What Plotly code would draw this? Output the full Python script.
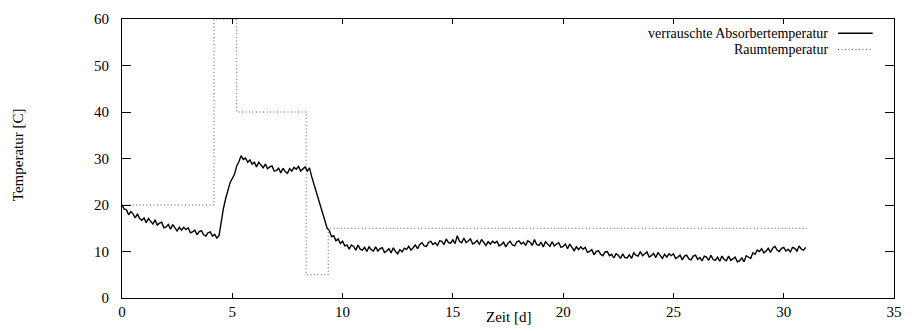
import plotly.graph_objects as go

# Noisy absorber temperature, sampled every 0.1 days from day 0 to day 31
absorber = [
    20.0, 19.1, 19.0, 17.9, 18.6, 18.1, 17.2, 18.1, 17.1, 16.7,
    17.2, 16.2, 17.1, 16.4, 15.9, 16.8, 15.7, 16.1, 16.3, 15.1,
    15.3, 15.8, 14.8, 15.8, 15.0, 14.4, 15.2, 14.6, 15.2, 14.7,
    15.1, 14.0, 14.2, 14.6, 13.6, 14.3, 14.5, 13.6, 13.3, 14.0,
    14.2, 13.3, 13.7, 12.9, 13.4, 16.9, 19.3, 21.4, 23.4, 24.8,
    25.7, 26.6, 28.4, 29.3, 30.6, 29.8, 30.1, 29.2, 29.7, 28.8,
    29.2, 28.2, 29.2, 28.5, 28.0, 28.8, 27.8, 28.2, 28.4, 27.3,
    27.4, 27.9, 26.9, 27.9, 27.2, 26.8, 27.8, 27.3, 28.1, 27.7,
    28.3, 27.3, 27.7, 28.2, 27.3, 28.0, 26.1, 24.5, 23.1, 21.2,
    19.9, 17.8, 16.5, 15.0, 14.5, 13.2, 13.4, 12.3, 12.7, 11.7,
    12.2, 11.2, 11.4, 10.5, 11.4, 11.1, 10.3, 11.4, 10.5, 10.3,
    10.9, 10.0, 11.0, 10.4, 10.1, 11.0, 10.1, 10.6, 10.8, 9.8,
    10.1, 10.6, 9.7, 10.8, 10.0, 9.5, 10.4, 9.9, 10.7, 10.4,
    11.1, 10.3, 10.8, 11.4, 10.6, 11.5, 11.9, 11.2, 11.1, 12.0,
    12.2, 11.5, 11.9, 11.3, 12.3, 12.2, 11.5, 12.7, 11.9, 11.8,
    12.5, 11.7, 13.4, 12.2, 11.9, 12.9, 11.9, 12.4, 12.7, 11.6,
    11.9, 12.4, 11.5, 12.6, 11.8, 11.3, 12.1, 11.6, 12.2, 11.8,
    12.2, 11.2, 11.5, 12.0, 11.0, 11.8, 12.2, 11.4, 11.2, 12.1,
    12.3, 11.6, 12.0, 11.3, 12.3, 12.0, 11.3, 12.6, 11.5, 11.3,
    12.0, 11.0, 12.1, 11.5, 11.1, 12.1, 11.2, 11.6, 11.9, 10.9,
    11.1, 11.6, 10.6, 11.6, 10.8, 10.2, 11.0, 10.4, 11.0, 10.5,
    10.9, 9.8, 10.0, 10.4, 9.3, 10.0, 10.2, 9.4, 9.1, 9.9,
    10.0, 9.1, 9.4, 8.6, 9.5, 9.2, 8.5, 9.5, 8.7, 8.6,
    9.3, 8.5, 9.7, 9.2, 9.0, 10.0, 9.1, 9.6, 9.9, 8.8,
    9.1, 9.6, 8.7, 9.8, 9.0, 8.5, 9.4, 8.8, 9.5, 9.1,
    9.5, 8.5, 8.8, 9.2, 8.2, 9.0, 9.2, 8.4, 8.2, 9.0,
    9.2, 8.3, 8.7, 8.0, 9.0, 8.8, 8.1, 9.2, 8.3, 8.1,
    8.8, 7.9, 9.0, 8.3, 8.0, 9.0, 8.1, 8.5, 8.8, 7.8,
    8.0, 8.6, 7.8, 9.1, 8.7, 8.5, 9.7, 9.4, 10.3, 10.0,
    10.6, 9.7, 10.1, 10.7, 9.8, 10.7, 11.1, 10.3, 10.0, 10.7,
    10.9, 10.1, 10.5, 9.9, 10.9, 10.7, 10.1, 11.2, 10.5, 10.3,
    10.9,
]
days = [round(0.1 * i, 1) for i in range(len(absorber))]

# Room temperature set points (step profile)
room_days = [0, 4.17, 5.2, 8.35, 9.35, 31.05]
room_temp = [20, 60, 40, 5, 15, 15]

label_absorber = "verrauschte Absorbertemperatur"
label_room = "Raumtemperatur"
x_title = "Zeit [d]"
y_title = "Temperatur [C]"

serif = "Liberation Serif, Times New Roman, Times, serif"
dotted = dict(color="#555555", width=1, dash="1px,2.5px")
solid = dict(color="black", width=1.4)

fig = go.Figure()
fig.add_trace(go.Scatter(
    x=room_days, y=room_temp, mode="lines", name=label_room,
    line=dict(shape="hv", **dotted), showlegend=False,
))
fig.add_trace(go.Scatter(
    x=days, y=absorber, mode="lines", name=label_absorber,
    line=solid, showlegend=False,
))

axis_common = dict(
    showline=True, linecolor="black", linewidth=1, mirror="ticks",
    ticks="inside", tickcolor="black", showgrid=False, zeroline=False,
    tickfont=dict(family=serif, size=15, color="black"),
)
fig.update_xaxes(range=[0, 35], tick0=0, dtick=5, ticklen=5, **axis_common)
fig.update_yaxes(range=[0, 60], tick0=0, dtick=10, ticklen=9,
                 ticklabelstandoff=9, **axis_common)

# gnuplot-style key: right-aligned text with the line sample to its right
key_rows = [(label_absorber, 0.949, solid), (label_room, 0.891, dotted)]
for text, ypos, style in key_rows:
    fig.add_annotation(x=0.917, y=ypos, xref="paper", yref="paper", text=text,
                       showarrow=False, xanchor="right", yanchor="middle",
                       font=dict(family=serif, size=14, color="black"))
    fig.add_shape(type="line", xref="paper", yref="paper",
                  x0=0.9275, x1=0.9724, y0=ypos, y1=ypos, line=style)

fig.add_annotation(x=0.5, y=-0.068, xref="paper", yref="paper", text=x_title,
                   showarrow=False, xanchor="center", yanchor="middle",
                   font=dict(family=serif, size=15, color="black"))
fig.add_annotation(x=-0.1347, y=0.512, xref="paper", yref="paper", text=y_title,
                   showarrow=False, xanchor="center", yanchor="middle", textangle=-90,
                   font=dict(family=serif, size=15, color="black"))

fig.update_layout(
    width=913, height=331,
    margin=dict(l=122, r=11, t=19, b=27),
    paper_bgcolor="white", plot_bgcolor="white",
)

fig.write_html("out.html")
